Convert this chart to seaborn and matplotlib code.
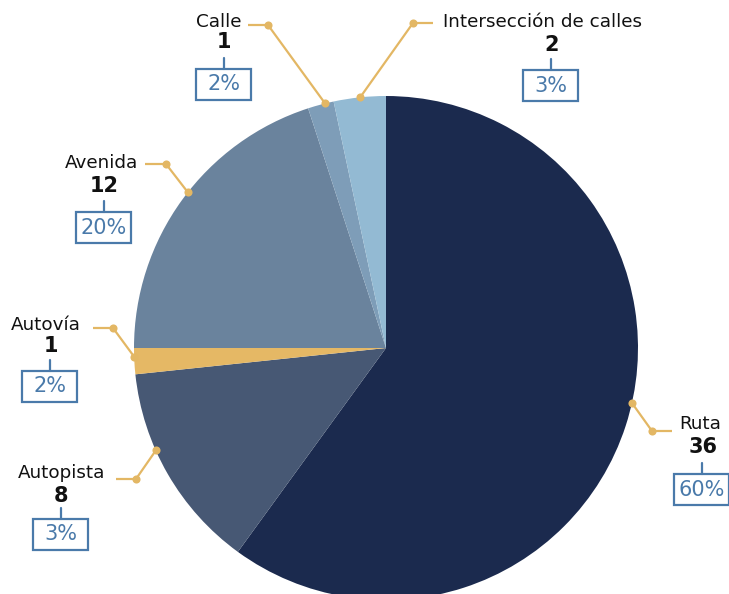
import numpy as np
import matplotlib
matplotlib.use("Agg")
import matplotlib.pyplot as plt
from matplotlib.patches import Rectangle
from matplotlib import font_manager
import seaborn as sns

# ---- data ----
categories = ["Ruta", "Autopista", "Autovía", "Avenida", "Calle", "Intersección de calles"]
counts = [36, 8, 1, 12, 1, 2]
pct_labels = ["60%", "3%", "2%", "20%", "2%", "3%"]
colors = ["#1b2a4e", "#475874", "#e5b865", "#6a839d", "#7e9db8", "#93bad3"]

# ---- layout (pixel coordinates, y measured from top) ----
W, H = 729, 594
CX, CY, R = 386, 348, 252
# f: where along the wedge the leader starts (fraction of the wedge sweep)
layout = {
    "Ruta":                   dict(f=0.475, nx=700, ny=424, vx=703, vy=447, bx=702, bt=474, ex=652, ey=431, hx=672),
    "Autopista":              dict(f=0.625, nx=62,  ny=473, vx=61,  vy=496, bx=61,  bt=519, ex=136, ey=479, hx=116),
    "Autovía":                dict(f=0.67,  nx=46,  ny=325, vx=51,  vy=346, bx=50,  bt=371, ex=113, ey=328, hx=93),
    "Avenida":                dict(f=0.53,  nx=101, ny=163, vx=104, vy=186, bx=104, bt=212, ex=166, ey=164, hx=145),
    "Calle":                  dict(f=0.67,  nx=219, ny=22,  vx=224, vy=42,  bx=224, bt=69,  ex=268, ey=25,  hx=248),
    "Intersección de calles": dict(f=0.51,  nx=543, ny=22,  vx=552, vy=45,  bx=551, bt=70,  ex=413, ey=23,  hx=433),
}
BOX_W, BOX_H = 55, 31

sns.set_theme(style="white")
plt.rcParams["font.family"] = ["DejaVu Sans"]

fig = plt.figure(figsize=(W / 100, H / 100), dpi=100)
ax = fig.add_axes([0, 0, 1, 1])

def Y(y):
    return H - y

wedges, _ = ax.pie(counts, colors=colors, startangle=90, counterclock=False,
                   center=(CX, Y(CY)), radius=R, frame=True,
                   wedgeprops=dict(linewidth=0))
ax.set_xlim(0, W)
ax.set_ylim(0, H)
ax.set_aspect("equal")
ax.axis("off")

gold = "#e3b764"
blue = "#4a7aaa"
num_bold = font_manager.FontProperties(family="DejaVu Sans", weight="bold", size=15)
num_reg = font_manager.FontProperties(family="DejaVu Sans", weight="normal", size=15)
name_fp = font_manager.FontProperties(family="DejaVu Sans", size=13.2)

for w, cat, n, p in zip(wedges, categories, counts, pct_labels):
    L = layout[cat]
    # wedge sweeps clockwise from theta2 to theta1
    ang = np.deg2rad(w.theta2 - L["f"] * (w.theta2 - w.theta1))
    px = CX + R * np.cos(ang)
    py = Y(CY) + R * np.sin(ang)
    ax.plot([px, L["ex"], L["hx"]], [py, Y(L["ey"]), Y(L["ey"])], color=gold, lw=1.6,
            solid_capstyle="butt", zorder=5)
    ax.scatter([px, L["ex"]], [py, Y(L["ey"])], s=34, color=gold, zorder=6, linewidths=0)
    ax.text(L["nx"], Y(L["ny"]), cat, ha="center", va="center", color="#111111",
            fontproperties=name_fp)
    ax.text(L["vx"], Y(L["vy"]), str(n), ha="center", va="center", color="#111111",
            fontproperties=num_bold)
    ax.plot([L["bx"], L["bx"]], [Y(L["bt"] - 11), Y(L["bt"])], color=blue, lw=1.6)
    ax.add_patch(Rectangle((L["bx"] - BOX_W / 2, Y(L["bt"] + BOX_H)), BOX_W, BOX_H,
                           fill=False, edgecolor=blue, lw=1.6, zorder=5))
    ax.text(L["bx"], Y(L["bt"] + BOX_H / 2), p, ha="center", va="center", color=blue,
            fontproperties=num_reg)

fig.savefig("out.png", dpi=100)
